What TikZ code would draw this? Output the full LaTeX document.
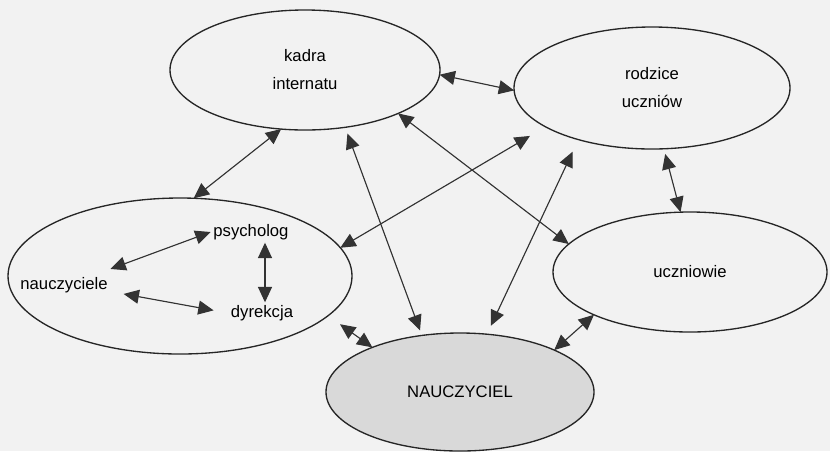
\documentclass[tikz,border=0pt]{standalone}
\usepackage{fontspec}
\setmainfont{Liberation Sans}
\usetikzlibrary{arrows.meta,shapes.geometric}

\begin{document}
\begin{tikzpicture}[x=0.75pt,y=-0.75pt,
    >={Triangle[length=11.5pt,width=10.5pt]},
    krag/.style={ellipse,draw=black!85,line width=1pt,outer sep=0pt,inner sep=0pt,align=center,font=\fontsize{12.5}{21}\selectfont},
    opis/.style={inner sep=2pt,font=\fontsize{12.5}{15}\selectfont},
    wiez/.style={<->,draw=black!80,fill=black!80,line width=0.85pt}]
\path[use as bounding box,fill=black!5] (0,0) rectangle (830,451);
\node[krag,minimum width=202.5pt,minimum height=90pt] (kadra) at (305,70) {kadra\\internatu};
\node[krag,minimum width=207pt,minimum height=91.5pt] (rodzice) at (652,88) {rodzice\\uczniów};
\node[krag,minimum width=258pt,minimum height=117pt] (zespol) at (180,276) {};
\node[krag,minimum width=205.5pt,minimum height=90pt] (uczniowie) at (690,272) {uczniowie};
\node[krag,fill=black!15,minimum width=201pt,minimum height=88.5pt] (nauczyciel) at (460,392) {NAUCZYCIEL};
\node[opis] (psych) at (251,232) {psycholog};
\node[opis] (nauc) at (64,285) {nauczyciele};
\node[opis] (dyrek) at (262,313) {dyrekcja};
\draw[wiez] (kadra.-2) -- (rodzice.181);
\draw[wiez] (kadra.-112) -- (zespol.80);
\draw[wiez,shorten <=5pt,shorten >=4pt] (kadra.-55) -- (nauczyciel.124);
\draw[wiez] (kadra.-25) -- (uczniowie.167);
\draw[wiez,shorten <=13.5pt] (rodzice.-160) -- (zespol.10);
\draw[wiez,shorten <=10pt,shorten >=7pt] (rodzice.-145) -- (nauczyciel.65);
\draw[wiez,shorten <=4pt] (rodzice.-79) -- (uczniowie.99);
\draw[wiez,shorten <=11pt] (zespol.-15) -- (nauczyciel.153);
\draw[wiez] (uczniowie.-156) -- (nauczyciel.24);
\draw[wiez] ([yshift=4pt]nauc.north east) -- (psych.west);
\draw[wiez,shorten <=10pt,shorten >=11pt] (nauc.-8) -- (dyrek.west);
\draw[wiez] ([xshift=10.5pt]psych.south) -- ([xshift=10.5pt]psych.south |- dyrek.north);
\end{tikzpicture}
\end{document}
